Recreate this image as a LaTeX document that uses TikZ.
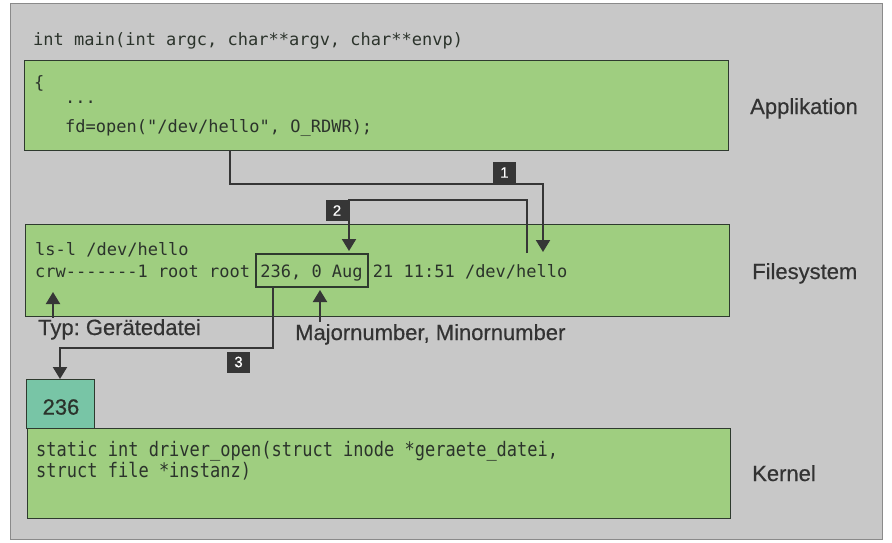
\documentclass[tikz,border=0pt]{standalone}
\usepackage{fontspec}
\setmonofont{DejaVu Sans Mono}
\newfontfamily\kmono[FakeStretch=0.85]{DejaVu Sans Mono}
\newfontfamily\labfont[FakeBold=0.5]{Liberation Sans}
\frenchspacing
\usetikzlibrary{arrows.meta}
\definecolor{bgc}{HTML}{C8C8C8}
\definecolor{framec}{HTML}{8A8A8A}
\definecolor{greenc}{HTML}{9FCE80}
\definecolor{tealc}{HTML}{78C5A6}
\definecolor{edgec}{HTML}{2E3A2E}
\definecolor{linec}{HTML}{363636}
\definecolor{txtc}{HTML}{2B332B}
\definecolor{labc}{HTML}{333333}
\tikzset{
  gbox/.style={draw=edgec, line width=1.3pt, fill=greenc, anchor=north west, inner sep=0pt},
  code/.style={font=\ttfamily\fontsize{17}{20}\selectfont, text=txtc, anchor=base west, inner sep=0pt},
  kcode/.style={font=\kmono\fontsize{20}{22}\selectfont, text=txtc, anchor=base west, inner sep=0pt},
  layer/.style={font=\labfont\fontsize{22}{26}\selectfont, text=labc, anchor=base west, inner sep=0pt},
  conn/.style={draw=linec, line width=2pt},
  tip/.style={-{Triangle[width=14pt,length=12pt]}},
  numbox/.style={fill=linec, text=white, font=\labfont\fontsize{15}{16}\selectfont, minimum width=23pt, minimum height=21pt, inner sep=0pt}
}
\begin{document}
\begin{tikzpicture}[x=1pt,y=-1pt]
\useasboundingbox (0,0) rectangle (892,542);
\fill[white] (0,0) rectangle (892,542);
\draw[fill=bgc, draw=framec, line width=1pt] (10,3) rectangle (882,539);

% boxes
\node[gbox, minimum width=704pt, minimum height=90pt] (app) at (24,60) {};
\node[gbox, minimum width=704pt, minimum height=92pt] (fs) at (25,224) {};
\node[gbox, fill=tealc, minimum width=68pt, minimum height=49pt] (k236) at (26,379) {};
\node[gbox, minimum width=703pt, minimum height=90pt] (kern) at (27,428) {};
\node[font=\labfont\fontsize{22}{26}\selectfont, text=txtc, inner sep=0pt] (k236t) at (61,407) {236};

% application text
\node[code] (mainl) at (33,45) {int main(int argc, char**argv, char**envp)};
\node[code] (brace) at (34,88) {\{};
\node[code] (dots) at (65,103) {...};
\node[code] (fdl) at (65,132) {fd=open("/dev/hello", O\_RDWR);};

% filesystem text
\node[code] (lsl) at (35,255) {ls-l /dev/hello};
\node[code] (crw) at (35,277) {crw-------1 root root 236, 0 Aug 21 11:51 /dev/hello};
\node[draw=edgec, line width=1.2pt, minimum width=112pt, minimum height=33pt, inner sep=0pt] (majbox) at (312,270.5) {};

% kernel text
\node[kcode] (kl1) at (36,456) {static int driver\_open(struct inode *geraete\_datei,};
\node[kcode] (kl2) at (36,477) {struct file *instanz)};

% layer labels
\node[layer] (lapp) at (750,114) {Applikation};
\node[layer] (lfs) at (752,279) {Filesystem};
\node[layer] (lk) at (752,481) {Kernel};

% annotations below filesystem
\node[layer] (typ) at (38,335) {Typ: Gerätedatei};
\node[layer] (major) at (295,340) {Majornumber, Minornumber};

% connector coordinates
\coordinate (s1) at (230,150);
\coordinate (c1) at (543,184);
\coordinate (t1) at (543,252);
\coordinate (s2) at (527,253);
\coordinate (c2) at (349,200);
\coordinate (t2) at (349,251);
\coordinate (s3) at (273,287);
\coordinate (c3) at (60,348);
\coordinate (t3) at (60,379);
\coordinate (ty0) at (53,318);
\coordinate (ty1) at (53,292);
\coordinate (mj0) at (320,322);
\coordinate (mj1) at (320,290);

\draw[conn, tip] (s1) |- (c1) -- (t1);
\draw[conn, tip] (s2) |- (c2) -- (t2);
\draw[conn, tip] (s3) |- (c3) -- (t3);
\draw[conn, tip] (ty0) -- (ty1);
\draw[conn, tip] (mj0) -- (mj1);

% number labels
\node[numbox] (n1) at (504.5,172.5) {1};
\node[numbox] (n2) at (337,210.5) {2};
\node[numbox] (n3) at (238.5,362) {3};
\end{tikzpicture}
\end{document}
